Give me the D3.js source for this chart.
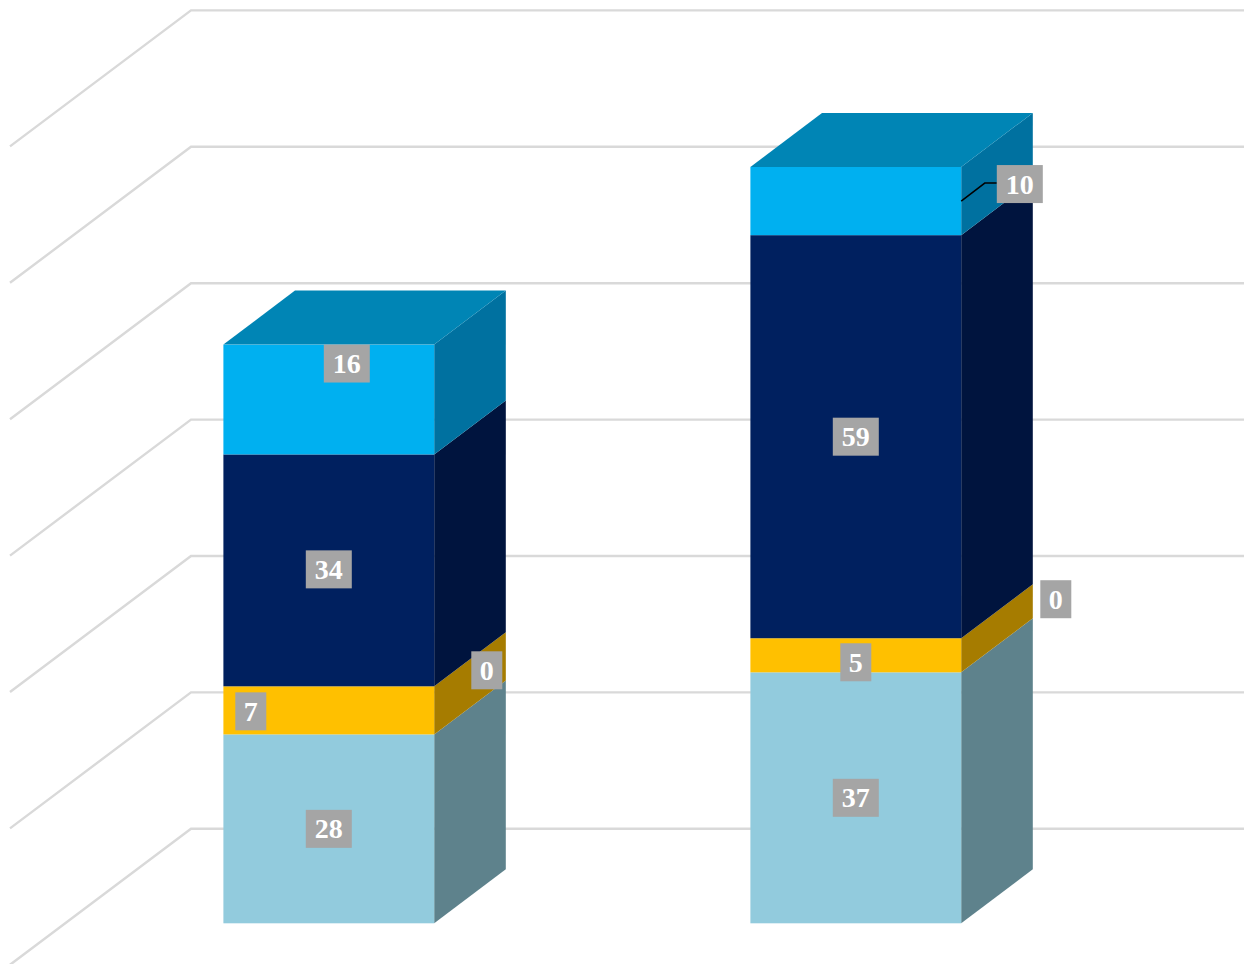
<!DOCTYPE html>
<html>
<head>
<meta charset="utf-8">
<script src="https://cdn.jsdelivr.net/npm/d3@7"></script>
<style>html,body{margin:0;padding:0;background:#fff;overflow:hidden}svg{display:block}</style>
</head>
<body>
<div id="chart"></div>
<script>
const categories = ["A", "B"];
const seriesNames = ["Series 1", "Series 2", "Series 3", "Series 4", "Series 5"];
const valuesA = [27.7, 7.05, 0, 34.0, 16.1];
const valuesB = [36.8, 5.0, 0, 59.1, 10.0];
const gridTicks = [0, 20, 40, 60, 80, 100, 120];
const frontColors = ["#92CBDD", "#FFC000", "#A67C00", "#00205F", "#00B0F0"];
const sideColors = ["#5E828C", "#A67C00", "#A67C00", "#00143E", "#0071A0"];
const topColor = "#0085B5";
const labelBg = "#A5A5A5";
// manual label displacement from the segment's centre: [category, series, dx, dy]
const labelMoves = [
  ["A", 4, 18, -36], ["A", 1, -78, 1], ["A", 2, 158, -16], ["A", 3, 0, -1],
  ["B", 4, 164, -17], ["B", 1, 0, 7], ["B", 2, 200, -39]
];

const W = 1244, H = 964;
const depthX = 71.6, depthY = 54;
const gridFrontX = 10, gridBackX = 191, gridFrontDrop = 41.5, gridBackRise = 94.5;

const x = d3.scaleBand().domain(categories).range([65.3, 1119.3]).paddingInner(0.6).paddingOuter(0.3);
const y = d3.scaleLinear().domain([0, 120]).range([923.3, 923.3 - 818.4]);

const svg = d3.select("#chart").append("svg").attr("width", W).attr("height", H);

svg.append("g").selectAll("polyline").data(gridTicks).join("polyline")
  .attr("fill", "none").attr("stroke", "#D9D9D9").attr("stroke-width", 2.4)
  .attr("points", t => [[gridFrontX, y(t) + gridFrontDrop], [gridBackX, y(t) - gridBackRise], [W, y(t) - gridBackRise]].join(" "));

const table = {A: valuesA, B: valuesB};
const stackRows = categories.map(c => {
  const r = {cat: c};
  seriesNames.forEach((s, i) => r[s] = table[c][i]);
  return r;
});
const stacked = d3.stack().keys(seriesNames)(stackRows);
const segs = [];
stacked.forEach((layer, i) => layer.forEach(p => segs.push({cat: p.data.cat, i, v0: p[0], v1: p[1]})));

const poly = pts => pts.map(p => p.join(",")).join(" ");
const g = svg.append("g");
segs.filter(s => s.v1 > s.v0).forEach(s => {
  const x0 = x(s.cat), x1 = x0 + x.bandwidth(), yb = y(s.v0), yt = y(s.v1);
  g.append("polygon").attr("fill", sideColors[s.i])
    .attr("points", poly([[x1, yb], [x1 + depthX, yb - depthY], [x1 + depthX, yt - depthY], [x1, yt]]));
  g.append("rect").attr("x", x0).attr("y", yt).attr("width", x1 - x0).attr("height", yb - yt).attr("fill", frontColors[s.i]);
});
categories.forEach(c => {
  const x0 = x(c), x1 = x0 + x.bandwidth(), yt = y(d3.sum(table[c]));
  g.append("polygon").attr("fill", topColor)
    .attr("points", poly([[x0, yt], [x0 + depthX, yt - depthY], [x1 + depthX, yt - depthY], [x1, yt]]));
});

const fmt = d3.format(".0f");
const labels = svg.append("g");
const boxH = 38;
segs.forEach(s => {
  const text = fmt(s.v1 - s.v0);
  const mv = labelMoves.find(m => m[0] === s.cat && m[1] === s.i) || [s.cat, s.i, 0, 0];
  const x0 = x(s.cat), x1 = x0 + x.bandwidth();
  const midY = (y(s.v0) + y(s.v1)) / 2;
  const cx = (x0 + x1) / 2 + mv[2], cy = midY + mv[3];
  const bw = text.length > 1 ? 46 : 31;
  if (s.cat === "B" && s.i === 4) {
    const lx = cx - bw / 2;
    labels.append("polyline").attr("fill", "none").attr("stroke", "#000").attr("stroke-width", 1.5)
      .attr("points", poly([[x1, midY], [lx - 12, cy - 1], [lx, cy - 1]]));
  }
  labels.append("rect").attr("x", cx - bw / 2).attr("y", cy - boxH / 2).attr("width", bw).attr("height", boxH).attr("fill", labelBg);
  labels.append("text").attr("x", cx).attr("y", cy).attr("dy", "0.34em").attr("text-anchor", "middle")
    .attr("font-family", "'Liberation Serif', serif").attr("font-weight", 700).attr("font-size", 28).attr("fill", "#fff").text(text);
});
</script>
</body>
</html>
